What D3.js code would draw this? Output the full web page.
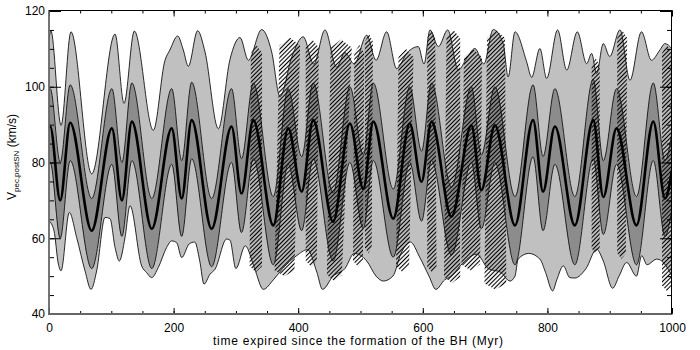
<!DOCTYPE html>
<html><head><meta charset="utf-8">
<script src="https://cdn.jsdelivr.net/npm/d3@7"></script>
<style>
body{margin:0;background:#fff;}
svg{display:block;}
text{font-family:"Liberation Sans",Arial,Helvetica,sans-serif;fill:#000;}
</style>
</head><body>
<svg id="chart" width="700" height="350"></svg>
<script>
// ---------------- data ----------------
const xTicks = [0, 200, 400, 600, 800, 1000];
const yTicks = [40, 60, 80, 100, 120];

// median (thick line) and inner (dark) band, at the median's turning points
const medT = [0,2,18,34,68.5,101,117,133,165,197,213,229,261,293,309,328,360,384,405.6,424,456,483,504.5,520.5,552.6,579,598,614,646,678,694,715.7,748,777,793,812,844,873.6,889.7,911,943,970,988.8,1000];
const medV = [89.3,89.5,70,90.5,62,89,70,90.8,62.5,89,70.5,91.2,62.5,89.5,71.8,91.2,63.4,89,72.3,91.2,64.4,90.3,73,90.8,65.2,90.3,74.9,90.8,65.7,89.8,72.7,89.8,63.4,91.2,72.3,89.5,63.4,91.2,70.9,89,63.4,90.8,70.5,78];
const darkTopV = [99.3,99.5,80,100.5,70.5,99.5,80,101,70.5,99.5,80.5,101.2,70.5,99.5,81,101,71,99.5,81.5,101,72,100,82,101,73,100,83,101,73.5,100,82,100,71,100.5,81.6,99.5,71,102,80.5,99.5,71,101,80.5,88];
const darkBotV = [79.8,80,60,80.5,52,79.5,60.5,80.5,52,79.5,60.5,81,52.5,80,61.5,81,53,79.5,62,81,54,80,62.5,80.5,55,80,64.5,80.5,55.5,80,62.5,80,53,81.5,62,79.5,53,81,61,79.5,53,80.5,60.5,68];

// outer (light) band, upper edge
const lightTopT = [0,3,19.3,35.3,68.5,106,120.4,137,167.4,186.2,194,206.5,215.6,223.6,238.6,250.4,271.8,290.5,306.6,320,341.4,357.4,370.8,390,408,425,443,461.7,475,490,510,525,542,558,575,592.8,602,611.5,625,640,657,670.4,683.7,698,713,729,737,748,766.7,774.7,788,798.8,816.4,831,848,863,871,879,889.7,900,916.5,932.5,951,967,980.6,988.7,1000];
const lightTopV = [112.5,114.8,89.8,114.5,77,113.9,95.6,114.7,88.5,107,109.7,113.4,109.7,105.4,114.8,109.2,88.9,107.2,113,107,115.1,109.2,97.4,108,113.2,106,115,105.2,109,106,113.6,107,114.5,104.8,109,110.6,106,115,110.6,115,104.4,107.5,110.1,106,115.1,111.4,102.6,114.5,106.6,102.5,110.1,102.2,115,104.4,114.5,106.1,108.8,103.5,111.4,108,115,101.7,114.5,107,109.7,111.4,110];

// outer (light) band, lower edge
const lightBotT = [0,8,15,19.3,32.6,44.4,57.8,67.4,76.5,89.9,97.9,106,112.9,122,130,148.7,156.8,164.8,175.5,188.9,197,205,213,225,234,242,248.8,258.4,266.4,285.2,290.5,300,315,330,344,360,375,397.5,415,430,439,456,475,490,510,525,536.6,552,565,580,595,610,621,635,646,660,686.5,705,725,740,748,753,770,788,797,808.4,815,825.5,836,844,862,879,889.7,904.7,915,927.2,943,951.3,960,975.4,983.4,1000];
const lightBotV = [64.6,62,53.2,51.4,66.8,60.2,51.4,46.5,51.4,65.5,65.2,57.6,54,60.2,68.6,52.7,50.9,49.6,52.3,57.6,59.3,58.8,54.9,58.5,59,54,47.9,50.5,51.8,59.8,59.5,52,58,52,46.5,49,52,55.4,57,51,46.5,50,52,56,54,50,48.7,50,56,59,55,50,46.5,49,50,52.7,55.8,52,51,48.7,50,54.5,56,54.5,51,46.1,49,52.7,49.6,49.5,52,57.1,54,46.8,50,53.6,50,55.4,53,54.5,54,50];

// hatched strips: time span at the top and at the bottom, lower and upper velocity
const hatchTopT0 = [324,370,412,452,490,507,561,607,638,666,703,871,912,984];
const hatchTopT1 = [342,403,433,486,506,520,585,620,660,695,732,884,928,1000];
const hatchBotT0 = [322,362,412,446,488,507,557,607,634,662,699,871,912,984];
const hatchBotT1 = [342,394,430,470,504,518,578,622,660,692,734,884,926,1000];
const hatchLo = [51,50,52.5,48.7,52.5,56,51,51,48.2,51.5,46.5,55.8,54.5,46];
const hatchHi = [111,113,112.5,112.5,111,114,110,115,115,110,115,107.6,115,111];

// ---------------- drawing ----------------
const svg = d3.select("#chart");
const x = d3.scaleLinear().domain([0, 1000]).range([49, 672]);
const y = d3.scaleLinear().domain([40, 120]).range([314, 11]);

const defs = svg.append("defs");
defs.append("clipPath").attr("id", "plotclip")
  .append("rect").attr("x", x(0)).attr("y", y(120) - 1)
  .attr("width", x(1000) - x(0)).attr("height", y(40) - y(120) + 1);
const pat = defs.append("pattern").attr("id", "hatch")
  .attr("patternUnits", "userSpaceOnUse").attr("width", 3).attr("height", 3)
  .attr("patternTransform", "rotate(45)");
pat.append("line").attr("x1", 1.5).attr("y1", -1).attr("x2", 1.5).attr("y2", 4)
  .attr("stroke", "#000").attr("stroke-width", 1.1);

const g = svg.append("g").attr("clip-path", "url(#plotclip)");

const lt = d3.zip(lightTopT, lightTopV);
const lb = d3.zip(lightBotT, lightBotV);
const md = d3.zip(medT, medV, darkTopV, darkBotV);
const curve = d3.curveMonotoneX;

// light band: fill under upper edge, then white out below lower edge
g.append("path").datum(lt)
  .attr("d", d3.area().x(d => x(d[0])).y0(y(40) + 2).y1(d => y(d[1])).curve(curve))
  .attr("fill", "#c0c0c0");
g.append("path").datum(lb)
  .attr("d", d3.area().x(d => x(d[0])).y0(y(40) + 2).y1(d => y(d[1])).curve(curve))
  .attr("fill", "#fff");

// dark band
g.append("path").datum(md)
  .attr("d", d3.area().x(d => x(d[0])).y0(d => y(d[3])).y1(d => y(d[2])).curve(curve))
  .attr("fill", "#8c8c8c");

// hatched strips: pointed tops and bottoms like slices of the band
const strip = d3.line().curve(d3.curveLinearClosed);
g.selectAll("path.h").data(d3.range(hatchHi.length)).join("path")
  .attr("class", "h")
  .attr("d", i => {
    const a = x(hatchTopT0[i]), b = x(hatchTopT1[i]);
    const c = x(hatchBotT0[i]), e = x(hatchBotT1[i]);
    const top = y(hatchHi[i]), bot = y(hatchLo[i]);
    return strip([
      [a, top + 8], [(a + b) / 2, top], [b, top + 8],
      [e, bot - 6], [(c + e) / 2, bot], [c, bot - 6]
    ]);
  })
  .attr("fill", "url(#hatch)");

// outlines
const line = acc => d3.line().x(d => x(d[0])).y(acc).curve(curve);
g.append("path").datum(lt).attr("d", line(d => y(d[1])))
  .attr("fill", "none").attr("stroke", "#111").attr("stroke-width", 0.9);
g.append("path").datum(lb).attr("d", line(d => y(d[1])))
  .attr("fill", "none").attr("stroke", "#111").attr("stroke-width", 0.9);
g.append("path").datum(md).attr("d", line(d => y(d[2])))
  .attr("fill", "none").attr("stroke", "#111").attr("stroke-width", 0.9);
g.append("path").datum(md).attr("d", line(d => y(d[3])))
  .attr("fill", "none").attr("stroke", "#111").attr("stroke-width", 0.9);
g.append("path").datum(md).attr("d", line(d => y(d[1])))
  .attr("fill", "none").attr("stroke", "#000").attr("stroke-width", 2.6);

// ---------------- axes ----------------
const xMinor = d3.range(0, 1001, 50);
const yMinor = d3.range(40, 121, 5);
function styleAx(sel) {
  sel.select(".domain").remove();
  sel.selectAll(".tick line").attr("stroke", "#000");
  sel.selectAll("text").attr("font-size", 12).attr("fill", "#000")
    .attr("font-family", '"Liberation Sans",Arial,sans-serif');
}
svg.append("g").attr("transform", `translate(0,${y(40)})`)
  .call(d3.axisBottom(x).tickValues(xMinor).tickSize(-3).tickFormat("")).call(styleAx);
svg.append("g").attr("transform", `translate(0,${y(40)})`)
  .call(d3.axisBottom(x).tickValues(xTicks).tickSize(-6).tickPadding(9).tickFormat(d3.format("d"))).call(styleAx);
svg.append("g").attr("transform", `translate(0,${y(120) - 0.5})`)
  .call(d3.axisTop(x).tickValues(xMinor).tickSize(-3).tickFormat("")).call(styleAx);
svg.append("g").attr("transform", `translate(0,${y(120) - 0.5})`)
  .call(d3.axisTop(x).tickValues(xTicks).tickSize(-6).tickFormat("")).call(styleAx);
svg.append("g").attr("transform", `translate(${x(0)},0)`)
  .call(d3.axisLeft(y).tickValues(yMinor).tickSize(-5).tickFormat("")).call(styleAx);
svg.append("g").attr("transform", `translate(${x(0)},0)`)
  .call(d3.axisLeft(y).tickValues(yTicks).tickSize(-12).tickPadding(4).tickFormat(d3.format("d"))).call(styleAx);
svg.append("g").attr("transform", `translate(${x(1000)},0)`)
  .call(d3.axisRight(y).tickValues(yMinor).tickSize(-5).tickFormat("")).call(styleAx);
svg.append("g").attr("transform", `translate(${x(1000)},0)`)
  .call(d3.axisRight(y).tickValues(yTicks).tickSize(-12).tickFormat("")).call(styleAx);

// frame
svg.append("line").attr("x1", x(0)).attr("x2", x(0)).attr("y1", y(120) - 1).attr("y2", y(40) + 1)
  .attr("stroke", "#666").attr("stroke-width", 1.8);
svg.append("line").attr("x1", x(0) - 1).attr("x2", x(1000) + 0.5).attr("y1", y(40)).attr("y2", y(40))
  .attr("stroke", "#666").attr("stroke-width", 1.8);
svg.append("line").attr("x1", x(0)).attr("x2", x(1000)).attr("y1", y(120) - 0.5).attr("y2", y(120) - 0.5)
  .attr("stroke", "#000").attr("stroke-width", 1);
svg.append("line").attr("x1", x(1000) - 0.5).attr("x2", x(1000) - 0.5).attr("y1", y(120) - 1).attr("y2", y(40))
  .attr("stroke", "#000").attr("stroke-width", 1);

// titles
svg.append("text").attr("x", 358).attr("y", 345).attr("text-anchor", "middle")
  .attr("font-size", 12).attr("textLength", 290).attr("lengthAdjust", "spacing")
  .text("time expired since the formation of the BH (Myr)");
const yl = svg.append("text").attr("transform", "translate(16,157) rotate(-90)")
  .attr("text-anchor", "middle").attr("font-size", 12);
yl.append("tspan").text("V");
yl.append("tspan").attr("font-size", 8).attr("dy", 3).text("pec,postSN");
yl.append("tspan").attr("dy", -3).text(" (km/s)");
</script>
</body></html>
